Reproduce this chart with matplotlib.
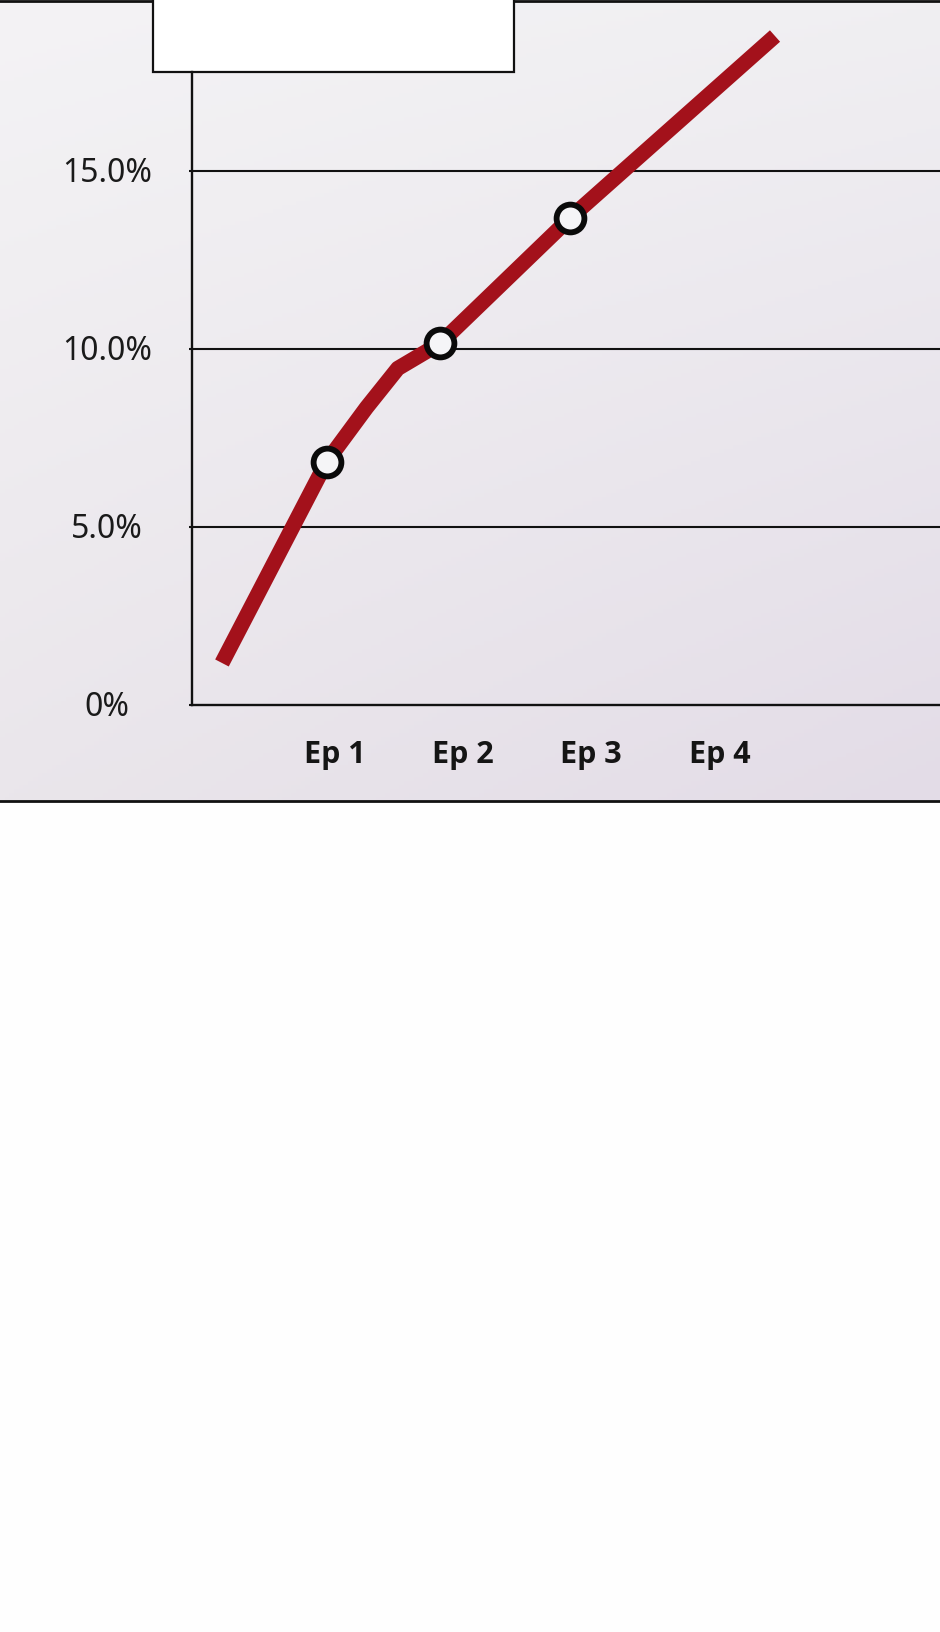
import numpy as np
import matplotlib
matplotlib.use("Agg")
import matplotlib.pyplot as plt
from matplotlib import transforms
from matplotlib.patches import Rectangle

# data
episodes = ["Ep 1", "Ep 2", "Ep 3", "Ep 4"]
episode_pos = [1, 2, 3, 4]
curve_x = [0.124, 0.939, 1.25, 1.494, 1.822, 2.838, 4.431]
curve_y = [1.18, 6.83, 8.35, 9.45, 10.15, 13.68, 18.78]
marker_x = [0.939, 1.822, 2.838]
marker_y = [6.83, 10.15, 13.68]
ytick_vals = [0, 5, 10, 15]
ytick_labels = ["0%", "5.0%", "10.0%", "15.0%"]

W, H = 940, 1632
fig = plt.figure(figsize=(W / 100, H / 100), dpi=100)
fig.patch.set_facecolor("#fefefe")

# background panel in pixel coordinates
bg = fig.add_axes([0, 0, 1, 1])
bg.set_xlim(0, W)
bg.set_ylim(H, 0)
bg.axis("off")

gx = np.linspace(0, 1, 200)
gy = np.linspace(0, 1, 200)
X, Y = np.meshgrid(gx, gy)
tl = np.array([0xf4, 0xf3, 0xf5]) / 255
tr = np.array([0xf0, 0xef, 0xf2]) / 255
bl = np.array([0xea, 0xe6, 0xeb]) / 255
br = np.array([0xe3, 0xdc, 0xe7]) / 255
grad = (tl * ((1 - X) * (1 - Y))[..., None] + tr * (X * (1 - Y))[..., None]
        + bl * ((1 - X) * Y)[..., None] + br * (X * Y)[..., None])
bg.imshow(grad, extent=[0, W, 801, 1], aspect="auto", zorder=0)
bg.plot([0, W], [1, 1], color="#111111", lw=2.0, zorder=1)
bg.plot([0, W], [801, 801], color="#111111", lw=2.0, zorder=1)
bg.add_patch(Rectangle((153, -5), 361, 77, facecolor="white",
                       edgecolor="#111111", lw=1.6, zorder=2))

# main chart
ax_left, ax_right = 192.3, 940.0
ax_top, ax_bot = 72.0, 705.0
ax = fig.add_axes([ax_left / W, 1 - ax_bot / H,
                   (ax_right - ax_left) / W, (ax_bot - ax_top) / H])
ax.patch.set_alpha(0)
ax.set_xlim(-0.107, 5.716)
ax.set_ylim(0, 17.77)

for s in ["top", "right"]:
    ax.spines[s].set_visible(False)
for s in ["left", "bottom"]:
    ax.spines[s].set_color("#111111")
    ax.spines[s].set_linewidth(1.7)

ax.set_yticks(ytick_vals)
ax.set_yticklabels([])
ax.set_xticks([])
ax.tick_params(axis="y", length=2.5, width=1.5, color="#111111")
for v in ytick_vals[1:]:
    ax.axhline(v, color="#111111", lw=1.5, zorder=1)

ylab_tr = transforms.offset_copy(ax.get_yaxis_transform(), fig=fig, y=-11, units="dots")
for v, lab in zip(ytick_vals, ytick_labels):
    ax.text(-0.114, v, lab, transform=ylab_tr, ha="center", va="baseline",
            fontsize=23, family=["Noto Sans", "DejaVu Sans"], color="#1a1a1a")

for p, lab in zip(episode_pos, episodes):
    ax.text(p, -0.0916, lab, transform=ax.get_xaxis_transform(), ha="center",
            va="baseline", fontsize=22, fontweight="bold",
            family=["Open Sans", "Roboto", "DejaVu Sans"], color="#151515")

ax.plot(curve_x, curve_y, color="#a3111b", lw=11, solid_capstyle="butt",
        solid_joinstyle="round", clip_on=False, zorder=3)
ax.plot(marker_x, marker_y, linestyle="none", marker="o", markersize=20,
        markerfacecolor="#f5f5f7", markeredgecolor="#0a0a0a",
        markeredgewidth=4.2, clip_on=False, zorder=4)

fig.savefig("out.png", dpi=100)
